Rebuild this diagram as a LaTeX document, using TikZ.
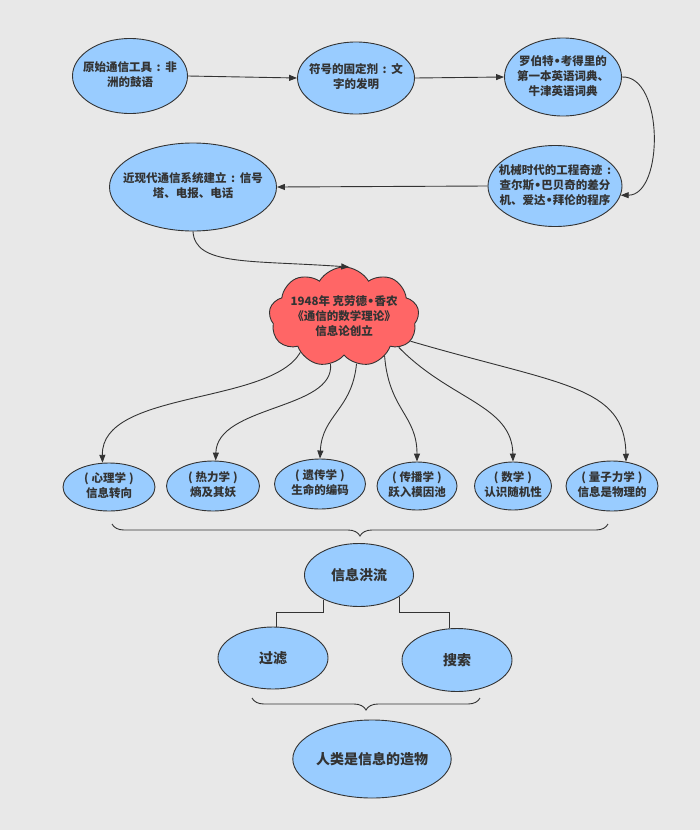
\documentclass[tikz,border=0pt]{standalone}
\usepackage{fontspec}
\setmainfont{Noto Sans CJK SC}
\newfontfamily\dotfont{DejaVu Sans}
\usepackage{tikz}
\usetikzlibrary{shapes.geometric,shapes.symbols,arrows.meta,decorations.pathreplacing}

\definecolor{paper}{HTML}{E8E8E8}
\definecolor{bubblefill}{HTML}{99CCFF}
\definecolor{cloudfill}{HTML}{FF6666}
\definecolor{ink}{HTML}{333333}

% centred lines that do not widen the shape
\newcommand{\celltext}[1]{\makebox[0pt]{\begin{tabular}{@{}c@{}}#1\end{tabular}}}
% narrow name dot, spaced colon, spaced brackets
\newcommand{\namedot}{{\dotfont\bfseries •}}
\newcommand{\wcolon}{\hspace{0.4em}:\hspace{0.4em}}
\newcommand{\field}[1]{(\hspace{3pt}#1\hspace{3pt})}

\begin{document}
\begin{tikzpicture}[x=1pt,y=-1pt,
    bubble/.style={ellipse,draw=ink,fill=bubblefill,line width=0.9pt,inner sep=0pt,
      text=ink,font=\fontsize{11.5}{15}\selectfont\bfseries},
    bigbubble/.style={bubble,font=\fontsize{14}{17}\selectfont\bfseries},
    cloudbox/.style={cloud,cloud puffs=9,cloud puff arc=120,cloud ignores aspect,
      draw=ink,fill=cloudfill,line width=0.9pt,inner sep=0pt,
      text=ink,font=\fontsize{11.5}{15}\selectfont\bfseries},
    link/.style={draw=ink,line width=0.9pt,-{Triangle[length=8pt,width=6pt]}},
    plain/.style={draw=ink,line width=0.9pt},
    bracket/.style={draw=ink,line width=0.9pt,decorate,decoration={brace,amplitude=12pt}}]

    % draw background
    \fill[paper] (0,0) rectangle (700,830);
    \useasboundingbox (0,0) rectangle (700,830);

    % draw history nodes
    \node[bubble,minimum width=115pt,minimum height=75pt] (drum) at (130,76)
      {\celltext{原始通信工具\wcolon 非\\洲的鼓语}};
    \node[bubble,minimum width=117pt,minimum height=72pt] (script) at (356,78)
      {\celltext{符号的固定剂\wcolon 文\\字的发明}};
    \node[bubble,minimum width=117pt,minimum height=78pt] (dict) at (563,77)
      {\celltext{罗伯特\namedot 考得里的\\第一本英语词典、\\牛津英语词典}};
    \node[bubble,minimum width=134pt,minimum height=81pt] (engine) at (555,186)
      {\celltext{机械时代的工程奇迹\wcolon\\查尔斯\namedot 巴贝奇的差分\\机、爱达\namedot 拜伦的程序}};
    \node[bubble,minimum width=167pt,minimum height=88pt] (telecom) at (193,187)
      {\celltext{近现代通信系统建立\wcolon 信号\\塔、电报、电话}};

    % draw shannon cloud
    \node[cloudbox,minimum width=150pt,minimum height=100pt] (shannon) at (344,317)
      {\celltext{1948年 克劳德\namedot 香农\\《通信的数学理论》\\信息论创立}};

    % draw discipline nodes
    \node[bubble,minimum width=92pt,minimum height=48pt] (psych) at (109,487)
      {\celltext{\field{心理学}\\信息转向}};
    \node[bubble,minimum width=93pt,minimum height=50pt] (thermo) at (213,486)
      {\celltext{\field{热力学}\\熵及其妖}};
    \node[bubble,minimum width=91pt,minimum height=50pt] (gene) at (320,484)
      {\celltext{\field{遗传学}\\生命的编码}};
    \node[bubble,minimum width=80pt,minimum height=48pt] (meme) at (417,486)
      {\celltext{\field{传播学}\\跃入模因池}};
    \node[bubble,minimum width=77pt,minimum height=48pt] (math) at (513,486)
      {\celltext{\field{数学}\\认识随机性}};
    \node[bubble,minimum width=92pt,minimum height=50pt] (quantum) at (612,486)
      {\celltext{\field{量子力学}\\信息是物理的}};

    % draw flood nodes
    \node[bigbubble,minimum width=109pt,minimum height=63pt] (flood) at (359,575) {信息洪流};
    \node[bigbubble,minimum width=110pt,minimum height=62pt] (filter) at (273,658) {过滤};
    \node[bigbubble,minimum width=110pt,minimum height=63pt] (search) at (457,660) {搜索};
    \node[bigbubble,minimum width=127pt,minimum height=78pt] (human) at (372,759) {人类是信息的造物};

    % draw history arrows
    \draw[link] (drum.east) -- (script.west);
    \draw[link] (script.east) -- (dict.west);
    \draw[link] (dict.east) .. controls (664,75) and (664,195) .. (engine.352);
    \draw[link] (engine.west) -- (telecom.east);
    \draw[link] (telecom.south) .. controls (195,266) and (250,260) .. (shannon.84);

    % draw discipline arrows
    \draw[link] (shannon.219) .. controls (270,405) and (101,390) .. (psych.105);
    \draw[link] (shannon.254) .. controls (335,410) and (217,405) .. (thermo.84);
    \draw[link] (shannon.285) .. controls (352,410) and (322,415) .. (gene.north);
    \draw[link] (shannon.316) .. controls (389,410) and (417,415) .. (meme.north);
    \draw[link] (shannon.331) .. controls (450,400) and (512,405) .. (math.north);
    \draw[link] (shannon.340) .. controls (560,385) and (625,385) .. (quantum.60);

    % draw braces
    \draw[bracket] (608,524) -- (112,524);
    \draw[bracket] (480,698) -- (252,698);

    % draw flood split
    \coordinate (fork) at (359,612);
    \draw[plain] (flood.215) -- (flood.215 |- fork) -| (filter.84);
    \draw[plain] (flood.332) -- (flood.332 |- fork) -| (search.104);

\end{tikzpicture}
\end{document}
